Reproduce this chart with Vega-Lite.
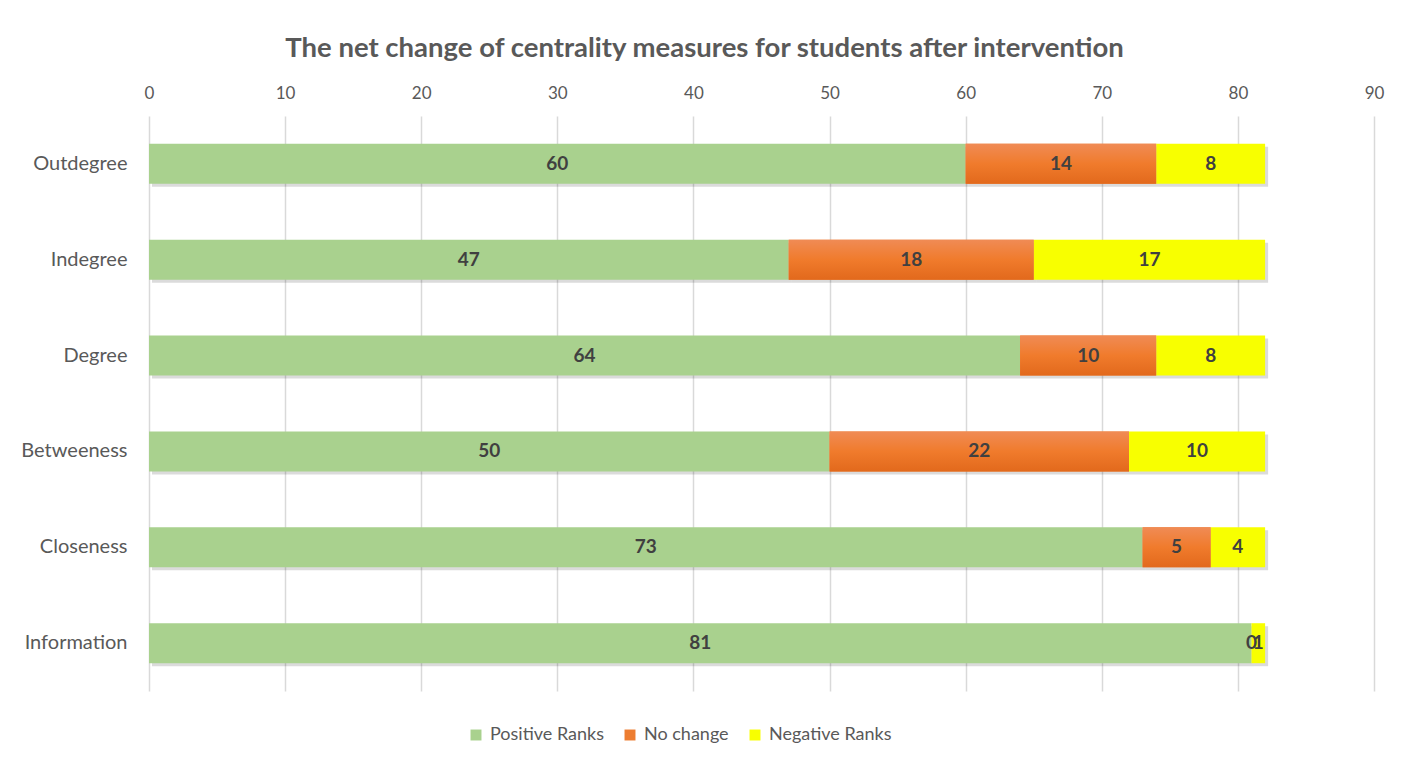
{
  "$schema": "https://vega.github.io/schema/vega-lite/v6.json",
  "width": 1225,
  "height": 575,
  "padding": {"top": 34, "left": 9, "right": 30, "bottom": 10},
  "background": "white",
  "title": {
    "text": "The net change of centrality measures for students after intervention",
    "font": "Lato",
    "fontSize": 27.5,
    "fontWeight": "bold",
    "color": "#595959",
    "anchor": "middle",
    "dx": -57,
    "offset": 22
  },
  "config": {
    "view": {"stroke": null},
    "font": "Lato"
  },
  "data": {
    "values": [
      {"measure": "Outdegree", "series": "Positive Ranks", "rank": 1, "value": 60},
      {"measure": "Outdegree", "series": "No change", "rank": 2, "value": 14},
      {"measure": "Outdegree", "series": "Negative Ranks", "rank": 3, "value": 8},
      {"measure": "Indegree", "series": "Positive Ranks", "rank": 1, "value": 47},
      {"measure": "Indegree", "series": "No change", "rank": 2, "value": 18},
      {"measure": "Indegree", "series": "Negative Ranks", "rank": 3, "value": 17},
      {"measure": "Degree", "series": "Positive Ranks", "rank": 1, "value": 64},
      {"measure": "Degree", "series": "No change", "rank": 2, "value": 10},
      {"measure": "Degree", "series": "Negative Ranks", "rank": 3, "value": 8},
      {"measure": "Betweeness", "series": "Positive Ranks", "rank": 1, "value": 50},
      {"measure": "Betweeness", "series": "No change", "rank": 2, "value": 22},
      {"measure": "Betweeness", "series": "Negative Ranks", "rank": 3, "value": 10},
      {"measure": "Closeness", "series": "Positive Ranks", "rank": 1, "value": 73},
      {"measure": "Closeness", "series": "No change", "rank": 2, "value": 5},
      {"measure": "Closeness", "series": "Negative Ranks", "rank": 3, "value": 4},
      {"measure": "Information", "series": "Positive Ranks", "rank": 1, "value": 81},
      {"measure": "Information", "series": "No change", "rank": 2, "value": 0},
      {"measure": "Information", "series": "Negative Ranks", "rank": 3, "value": 1}
    ]
  },
  "encoding": {
    "y": {
      "field": "measure",
      "type": "nominal",
      "sort": ["Outdegree", "Indegree", "Degree", "Betweeness", "Closeness", "Information"],
      "scale": {"paddingInner": 0.583, "paddingOuter": 0.29},
      "axis": {
        "title": null,
        "ticks": false,
        "domain": false,
        "grid": false,
        "labelFontSize": 20,
        "labelColor": "#595959",
        "labelPadding": 22,
        "minExtent": 140,
        "maxExtent": 140
      }
    },
    "x": {
      "field": "value",
      "type": "quantitative",
      "stack": "zero",
      "scale": {"domain": [0, 90], "nice": false},
      "axis": {
        "orient": "top",
        "title": null,
        "values": [0, 10, 20, 30, 40, 50, 60, 70, 80, 90],
        "ticks": false,
        "tickSize": 0,
        "domain": false,
        "grid": true,
        "gridColor": "#d9d9d9",
        "gridWidth": 1.5,
        "labelFontSize": 17,
        "labelColor": "#595959",
        "labelFlush": false,
        "labelPadding": 14,
        "minExtent": 30,
        "maxExtent": 30
      }
    },
    "order": {"field": "rank", "type": "quantitative"}
  },
  "layer": [
    {
      "mark": {"type": "bar", "color": "#000000", "opacity": 0.14, "xOffset": 3, "yOffset": 3},
      "encoding": {
        "detail": {"field": "series", "type": "nominal"}
      }
    },
    {
      "mark": {"type": "bar"},
      "encoding": {
        "color": {
          "field": "series",
          "type": "nominal",
          "scale": {
            "domain": ["Positive Ranks", "No change", "Negative Ranks"],
            "range": ["#a9d18e", "#ed7d31", "#f8ff00"]
          },
          "legend": {
            "title": null,
            "orient": "none",
            "legendX": 318,
            "legendY": 610,
            "direction": "horizontal",
            "symbolType": "square",
            "symbolSize": 120,
            "symbolStrokeWidth": 0,
            "labelFontSize": 18,
            "labelColor": "#595959",
            "labelOffset": 5,
            "columnPadding": 17
          }
        }
      }
    },
    {
      "mark": {
        "type": "bar",
        "fill": {
          "gradient": "linear",
          "x1": 0, "y1": 0, "x2": 0, "y2": 1,
          "stops": [
            {"offset": 0, "color": "#f08b55"},
            {"offset": 0.5, "color": "#f07b2c"},
            {"offset": 1, "color": "#e2691c"}
          ]
        }
      },
      "encoding": {
        "detail": {"field": "series", "type": "nominal"},
        "opacity": {
          "condition": {"test": "datum.series === 'No change'", "value": 1},
          "value": 0
        }
      }
    },
    {
      "mark": {"type": "text", "fontWeight": "bold", "fontSize": 19, "color": "#404040"},
      "encoding": {
        "detail": {"field": "series", "type": "nominal"},
        "x": {"field": "value", "type": "quantitative", "stack": "zero", "bandPosition": 0.5},
        "text": {"field": "value", "type": "quantitative"}
      }
    }
  ]
}
